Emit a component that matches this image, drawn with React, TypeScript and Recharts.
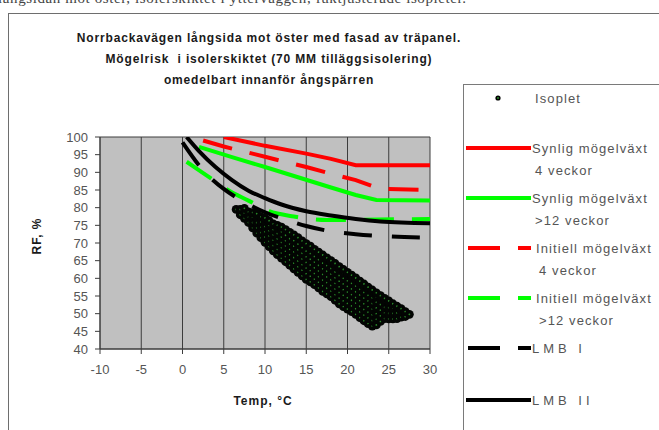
import { ComposedChart, Scatter, Line, XAxis, YAxis, CartesianGrid } from "recharts";

const tempTicks = [-10, -5, 0, 5, 10, 15, 20, 25, 30];
const rfTicks = [40, 45, 50, 55, 60, 65, 70, 75, 80, 85, 90, 95, 100];
const auxTicks = [0, 1, 2, 3, 4, 5, 6, 7, 8, 9, 10];

// Isoplet readings, RF values grouped by temperature column
const isopletColumns: { t: number; rf: number[] }[] = [
  { t: 6.5, rf: [79.5] },
  { t: 7, rf: [78, 79.5] },
  { t: 7.5, rf: [77, 78.5, 79.8] },
  { t: 8, rf: [75.8, 77.3, 78.8] },
  { t: 8.5, rf: [74.3, 75.8, 77.3, 78.6] },
  { t: 9, rf: [72.8, 74.3, 75.8, 77.3, 78.3] },
  { t: 9.5, rf: [71.5, 73, 74.5, 76, 77.4] },
  { t: 10, rf: [70.2, 71.7, 73.2, 74.7, 76.2, 77.1] },
  { t: 10.5, rf: [69, 70.5, 72, 73.5, 75, 76.3] },
  { t: 11, rf: [67.8, 69.3, 70.8, 72.3, 73.8, 75.4] },
  { t: 11.5, rf: [66.7, 68.2, 69.7, 71.2, 72.7, 74.2, 75] },
  { t: 12, rf: [65.7, 67.2, 68.7, 70.2, 71.7, 73.2, 74.5] },
  { t: 12.5, rf: [64.7, 66.2, 67.7, 69.2, 70.7, 72.2, 73.8] },
  { t: 13, rf: [63.7, 65.2, 66.7, 68.2, 69.7, 71.2, 73] },
  { t: 13.5, rf: [62.7, 64.3, 65.9, 67.5, 69.1, 70.7, 72.3] },
  { t: 14, rf: [61.7, 63.3, 64.9, 66.5, 68.1, 69.7, 71.5] },
  { t: 14.5, rf: [60.7, 62.3, 63.9, 65.5, 67.1, 68.7, 70.6] },
  { t: 15, rf: [59.7, 61.3, 62.9, 64.5, 66.1, 67.7, 69.8] },
  { t: 15.5, rf: [59, 60.6, 62.2, 63.8, 65.4, 67, 68.6, 69.1] },
  { t: 16, rf: [58.2, 59.8, 61.4, 63, 64.6, 66.2, 68.2] },
  { t: 16.5, rf: [57.3, 58.9, 60.5, 62.1, 63.7, 65.3, 66.9, 67.4] },
  { t: 17, rf: [56.3, 57.9, 59.5, 61.1, 62.7, 64.3, 65.9, 66.6] },
  { t: 17.5, rf: [55.6, 57.2, 58.8, 60.4, 62, 63.6, 65.2, 65.8] },
  { t: 18, rf: [54.8, 56.4, 58, 59.6, 61.2, 62.8, 64.4, 65] },
  { t: 18.5, rf: [53.8, 55.4, 57, 58.6, 60.2, 61.8, 63.4, 64.2] },
  { t: 19, rf: [52.8, 54.4, 56, 57.6, 59.2, 60.8, 62.4, 63.3] },
  { t: 19.5, rf: [52, 53.6, 55.2, 56.8, 58.4, 60, 61.6, 62.5] },
  { t: 20, rf: [51.3, 52.9, 54.5, 56.1, 57.7, 59.3, 60.9, 61.7] },
  { t: 20.5, rf: [50.6, 52.2, 53.8, 55.4, 57, 58.6, 60.2, 60.9] },
  { t: 21, rf: [49.8, 51.4, 53, 54.6, 56.2, 57.8, 59.4, 60.1] },
  { t: 21.5, rf: [48.9, 50.5, 52.1, 53.7, 55.3, 56.9, 58.5, 59.2] },
  { t: 22, rf: [48, 49.6, 51.2, 52.8, 54.4, 56, 57.6, 58.4] },
  { t: 22.5, rf: [47.2, 48.8, 50.4, 52, 53.6, 55.2, 56.8, 57.5] },
  { t: 23, rf: [46.5, 48.1, 49.7, 51.3, 52.9, 54.5, 56.1, 56.7] },
  { t: 23.5, rf: [46.8, 48.4, 50, 51.6, 53.2, 54.8, 55.9] },
  { t: 24, rf: [47.8, 49.4, 51, 52.6, 54.2, 55.1] },
  { t: 24.5, rf: [48.6, 50.2, 51.8, 53.4, 54.3] },
  { t: 25, rf: [48.5, 50.1, 51.7, 53.3, 53.6] },
  { t: 25.5, rf: [48.5, 50.1, 51.7, 52.8] },
  { t: 26, rf: [48.6, 50.2, 51.8, 52.1] },
  { t: 26.5, rf: [49, 50.6, 51.4] },
  { t: 27, rf: [49.2, 50.6] },
  { t: 27.5, rf: [49.8] },
];

// Synlig mögelväxt 4 veckor
const synlig4Temp = [5, 10, 15, 18, 21, 30];
const synlig4RF = [100, 97.5, 95.3, 93.8, 92, 92];

// Synlig mögelväxt >12 veckor
const synlig12Temp = [2, 6, 10, 14, 18, 21, 23.5, 30];
const synlig12RF = [97.2, 94.3, 91.5, 88.6, 85.7, 83.6, 82.2, 82];

// Initiell mögelväxt 4 veckor
const initiell4Temp = [2.5, 5, 10, 12, 15, 18, 21, 24, 30];
const initiell4RF = [99, 97.3, 94.4, 93.2, 91.5, 89.6, 87.8, 85.3, 85];

// Initiell mögelväxt >12 veckor
const initiell12Temp = [0.5, 3, 5.5, 8, 10.5, 13.5, 17.5, 22, 30];
const initiell12RF = [93, 89, 85, 82, 79, 77.5, 76.5, 76.6, 76.8];

// LMB I
const lmb1Temp = [0, 2.5, 5, 7.5, 10, 12, 15, 18, 21, 24, 30];
const lmb1RF = [98.5, 90.6, 85.3, 81.6, 78.7, 77, 74.8, 73.3, 72.5, 72, 71.5];

// LMB II
const lmb2Temp = [0.5, 2, 4, 6, 8, 10, 12, 15, 18, 21, 24, 30];
const lmb2RF = [100, 96, 91.5, 87.8, 84.8, 82.7, 80.9, 79, 77.8, 76.8, 76.1, 75.6];

const zip = (temps: number[], rfs: number[]) => temps.map((t, i) => ({ t, rf: rfs[i] }));

const isopletPoints = isopletColumns.flatMap((c) => c.rf.map((rf) => ({ t: c.t, rf })));

const lineSeries = [
  { key: "synlig4", data: zip(synlig4Temp, synlig4RF), color: "#ff0000", dash: undefined, type: "linear" },
  { key: "synlig12", data: zip(synlig12Temp, synlig12RF), color: "#00ff00", dash: undefined, type: "linear" },
  { key: "initiell4", data: zip(initiell4Temp, initiell4RF), color: "#ff0000", dash: "30 18", type: "linear" },
  { key: "initiell12", data: zip(initiell12Temp, initiell12RF), color: "#00ff00", dash: "30 18", type: "monotone" },
  { key: "lmb1", data: zip(lmb1Temp, lmb1RF), color: "#000000", dash: "28 20", type: "monotone" },
  { key: "lmb2", data: zip(lmb2Temp, lmb2RF), color: "#000000", dash: undefined, type: "monotone" },
] as const;

const legendRows = [
  { y: 98, kind: "dot", color: "#000", dashed: false, text: ["Isoplet"] },
  { y: 148, kind: "line", color: "#ff0000", dashed: false, text: ["Synlig mögelväxt", "4 veckor"] },
  { y: 198, kind: "line", color: "#00ff00", dashed: false, text: ["Synlig mögelväxt", ">12 veckor"] },
  { y: 248, kind: "line", color: "#ff0000", dashed: true, text: ["Initiell mögelväxt", "4 veckor"] },
  { y: 298, kind: "line", color: "#00ff00", dashed: true, text: ["Initiell mögelväxt", ">12 veckor"] },
  { y: 348, kind: "line", color: "#000000", dashed: true, text: ["LMB I"] },
  { y: 400, kind: "line", color: "#000000", dashed: false, text: ["LMB II"] },
];

const SANS = "'Liberation Sans', Arial, sans-serif";
const GRID = "#3c3c3c";

function IsopletDot(props: any) {
  const { cx, cy } = props;
  return (
    <g>
      <circle cx={cx} cy={cy} r={4.4} fill="#030503" />
      <circle cx={cx} cy={cy} r={0.9} fill="#2a8a2a" />
    </g>
  );
}

function AuxTick(props: any) {
  const { x, y } = props;
  return (
    <g>
      <circle cx={x + 5} cy={y} r={1} fill="#8a8a8a" />
      <circle cx={x + 9} cy={y} r={1} fill="#8a8a8a" />
    </g>
  );
}

function LegendBox() {
  const ox = 463;
  const oy = 84;
  return (
    <div
      style={{
        position: "absolute",
        left: ox,
        top: oy,
        width: 230,
        height: 380,
        background: "#fff",
        borderLeft: "1px solid #7a7a7a",
        borderTop: "1px solid #7a7a7a",
      }}
    >
      <svg width={230} height={380} style={{ position: "absolute", left: -1, top: -1 }}>
        {legendRows.map((row, i) => {
          const y = row.y - oy;
          const isLmb = row.text[0].startsWith("LMB");
          return (
            <g key={i}>
              {row.kind === "dot" ? (
                <g>
                  <circle cx={498 - ox} cy={y} r={2.6} fill="#000" />
                  <circle cx={498 - ox} cy={y} r={0.9} fill="#2e9a2e" />
                </g>
              ) : row.dashed ? (
                <g>
                  <line x1={468 - ox} x2={500 - ox} y1={y} y2={y} stroke={row.color} strokeWidth={4} />
                  <line x1={518 - ox} x2={531 - ox} y1={y} y2={y} stroke={row.color} strokeWidth={4} />
                </g>
              ) : (
                <line x1={466 - ox} x2={531 - ox} y1={y} y2={y} stroke={row.color} strokeWidth={4} />
              )}
              {row.text.map((t, j) => (
                <text
                  key={j}
                  x={(row.kind === "dot" ? 535 : row.dashed && !isLmb ? 536 : 532) - ox + (j > 0 ? 3 : 0)}
                  y={y + j * 22}
                  dy="0.35em"
                  fontFamily={SANS}
                  fontSize={13}
                  letterSpacing={isLmb ? 4 : 1.1}
                  fill="#555"
                >
                  {t}
                </text>
              ))}
            </g>
          );
        })}
      </svg>
    </div>
  );
}

export default function App() {
  return (
    <div
      style={{
        position: "absolute",
        left: 0,
        top: 0,
        width: 659,
        height: 430,
        overflow: "hidden",
        background: "#fff",
        fontFamily: SANS,
      }}
    >
      {/* running text of the surrounding page, mostly cut off */}
      <div
        style={{
          position: "absolute",
          left: -2,
          top: -10,
          fontFamily: "'Liberation Serif', serif",
          fontSize: 15,
          color: "#444",
          whiteSpace: "nowrap",
          letterSpacing: 0.6,
        }}
      >
        långsidan mot öster, isolerskiktet i ytterväggen, fuktjusterade isopleter.
      </div>

      {/* chart frame */}
      <div
        style={{
          position: "absolute",
          left: 8,
          top: 13,
          width: 700,
          height: 500,
          border: "1px solid #6e6e6e",
        }}
      />

      <div
        style={{
          position: "absolute",
          left: 69,
          top: 28,
          width: 400,
          textAlign: "center",
          fontWeight: "bold",
          fontSize: 12,
          lineHeight: "21px",
          letterSpacing: 0.85,
          color: "#1a1a1a",
        }}
      >
        <div>Norrbackavägen långsida mot öster med fasad av träpanel.</div>
        <div>Mögelrisk&nbsp; i isolerskiktet (70 MM tilläggsisolering)</div>
        <div>omedelbart innanför ångspärren</div>
      </div>

      <div style={{ position: "absolute", left: 0, top: 0 }}>
        <ComposedChart
          width={659}
          height={430}
          margin={{ top: 137, right: 209, bottom: 51, left: 60 }}
          style={{ fontFamily: SANS }}
        >
          <CartesianGrid fill="#c0c0c0" stroke={GRID} strokeWidth={1} fillOpacity={1} />
          <XAxis
            type="number"
            dataKey="t"
            domain={[-10, 30]}
            ticks={tempTicks}
            interval={0}
            allowDataOverflow
            height={30}
            tickSize={5}
            tickMargin={11}
            axisLine={{ stroke: GRID }}
            tickLine={{ stroke: GRID }}
            tick={{ fill: "#555", fontSize: 13 }}
          />
          <YAxis
            yAxisId="rf"
            type="number"
            dataKey="rf"
            domain={[40, 100]}
            ticks={rfTicks}
            interval={0}
            allowDataOverflow
            width={40}
            tickSize={5}
            tickMargin={7}
            axisLine={{ stroke: GRID }}
            tickLine={{ stroke: GRID }}
            tick={{ fill: "#555", fontSize: 13 }}
          />
          <YAxis
            yAxisId="aux"
            orientation="right"
            type="number"
            domain={[0, 10]}
            ticks={auxTicks}
            interval={0}
            width={20}
            tickSize={3}
            tickMargin={0}
            axisLine={false}
            tickLine={{ stroke: "#666" }}
            tick={<AuxTick />}
          />
          <Scatter
            yAxisId="rf"
            data={isopletPoints}
            shape={<IsopletDot />}
            isAnimationActive={false}
          />
          {lineSeries.map((s) => (
            <Line
              key={s.key}
              yAxisId="rf"
              data={s.data}
              dataKey="rf"
              type={s.type}
              stroke={s.color}
              strokeWidth={4}
              strokeDasharray={s.dash}
              dot={false}
              activeDot={false}
              isAnimationActive={false}
            />
          ))}
        </ComposedChart>
      </div>

      <div
        style={{
          position: "absolute",
          left: 18,
          top: 218,
          width: 38,
          height: 36,
          display: "flex",
          alignItems: "center",
          justifyContent: "center",
        }}
      >
        <div
          style={{
            transform: "rotate(-90deg)",
            whiteSpace: "nowrap",
            fontWeight: "bold",
            fontSize: 12,
            letterSpacing: 1,
            color: "#1a1a1a",
          }}
        >
          RF, %
        </div>
      </div>

      <div
        style={{
          position: "absolute",
          left: 213,
          top: 394,
          width: 100,
          textAlign: "center",
          fontWeight: "bold",
          fontSize: 12,
          letterSpacing: 1,
          color: "#1a1a1a",
        }}
      >
        Temp, °C
      </div>

      <LegendBox />
    </div>
  );
}
